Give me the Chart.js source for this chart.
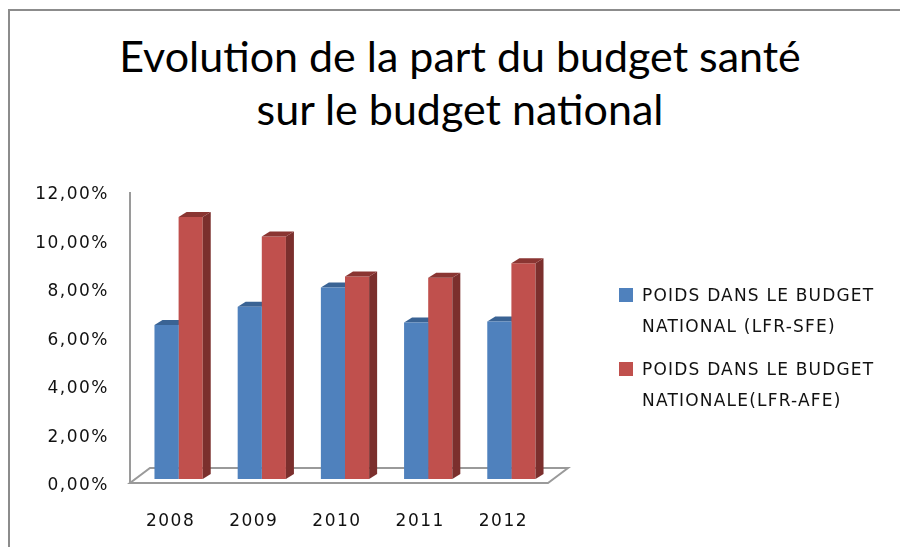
<!DOCTYPE html>
<html>
<head>
<meta charset="utf-8">
<script src="https://cdn.jsdelivr.net/npm/chart.js@4.4.1/dist/chart.umd.min.js"></script>
<style>
  body { margin: 0; background: #fff; }
  #wrap { position: relative; width: 900px; height: 547px; overflow: hidden; }
  #frame { position: absolute; left: 8px; top: 9px; width: 1000px; height: 1000px;
           border-top: 2px solid #8c8c8c; border-left: 2px solid #8c8c8c; }
  #title { position: absolute; left: 0; top: 29px; width: 920px; text-align: center;
           font-family: Lato, "Open Sans", sans-serif; font-size: 43px; line-height: 53px; color: #000; }
  #legend { position: absolute; left: 619px; top: 280px; font-family: "DejaVu Sans", sans-serif;
            font-size: 17px; letter-spacing: 1.2px; color: #111; }
  .item { position: relative; padding-left: 23px; line-height: 31px; margin-bottom: 12px; }
  .box { position: absolute; left: 0; top: 8px; width: 14px; height: 14px; }
  canvas { position: absolute; left: 0; top: 0; }
</style>
</head>
<body>
<div id="wrap">
  <div id="frame"></div>
  <div id="title">Evolution de la part du budget santé<br>sur le budget national</div>
  <canvas id="chartHolder" width="900" height="547"></canvas>
  <div id="legend"></div>
</div>
<script>
const categories = ["2008", "2009", "2010", "2011", "2012"];
const seriesNames = [["POIDS DANS LE BUDGET", "NATIONAL (LFR-SFE)"], ["POIDS DANS LE BUDGET", "NATIONALE(LFR-AFE)"]];
const sfeValues = [6.35, 7.1, 7.9, 6.45, 6.5];
const afeValues = [10.8, 10.0, 8.35, 8.3, 8.9];
const yTicks = [0, 2, 4, 6, 8, 10, 12];

const colors = [
    {front: "#4f81bd", top: "#3a6394", side: "#37608f"},
    {front: "#c0504d", top: "#8a3532", side: "#7b2f2d"}
];
const DX = 8, DY = 5;

// legend as plain html
const legend = document.getElementById("legend");
seriesNames.forEach((lines, i) => {
    const item = document.createElement("div");
    item.classList.add("item");
    const box = document.createElement("span");
    box.classList.add("box");
    box.style.background = colors[i].front;
    item.append(box);
    item.append(lines[0]);
    item.append(document.createElement("br"));
    item.append(lines[1]);
    legend.append(item);
});

function drawFaces(ctx, meta, c)
{
    meta.data.forEach(bar => {
        const l = bar.x - bar.width / 2;
        const r = bar.x + bar.width / 2;
        ctx.fillStyle = c.side;
        ctx.beginPath();
        ctx.moveTo(r, bar.y);
        ctx.lineTo(r + DX, bar.y - DY);
        ctx.lineTo(r + DX, bar.base - DY);
        ctx.lineTo(r, bar.base);
        ctx.closePath();
        ctx.fill();
        ctx.fillStyle = c.top;
        ctx.beginPath();
        ctx.moveTo(l, bar.y);
        ctx.lineTo(l + DX, bar.y - DY);
        ctx.lineTo(r + DX, bar.y - DY);
        ctx.lineTo(r, bar.y);
        ctx.closePath();
        ctx.fill();
    });
}

const bars3d = {
    id: "bars3d",
    beforeDraw(chart) {
        chart.ctx.letterSpacing = "1.5px";
    },
    beforeDatasetsDraw(chart) {
        const ctx = chart.ctx;
        const a = chart.chartArea;
        ctx.save();
        // floor
        ctx.strokeStyle = "#9a9a9a";
        ctx.lineWidth = 2;
        ctx.beginPath();
        ctx.moveTo(a.left - 7, a.bottom + 4);
        ctx.lineTo(a.right - 5, a.bottom + 4);
        ctx.lineTo(a.right + 15, a.bottom - 11);
        ctx.lineTo(a.left + 13, a.bottom - 11);
        ctx.closePath();
        ctx.stroke();
        // value axis
        ctx.beginPath();
        ctx.moveTo(a.left - 7, a.top + 4);
        ctx.lineTo(a.left - 7, a.bottom + 4);
        ctx.stroke();
        drawFaces(ctx, chart.getDatasetMeta(0), colors[0]);
        ctx.restore();
    },
    afterDatasetsDraw(chart) {
        const ctx = chart.ctx;
        ctx.save();
        drawFaces(ctx, chart.getDatasetMeta(1), colors[1]);
        ctx.restore();
    }
};

new Chart(document.getElementById("chartHolder"), {
    type: "bar",
    data: {
        labels: categories,
        datasets: [
            {label: seriesNames[0].join(" "), data: sfeValues, backgroundColor: colors[0].front},
            {label: seriesNames[1].join(" "), data: afeValues, backgroundColor: colors[1].front}
        ]
    },
    options: {
        responsive: false,
        animation: false,
        devicePixelRatio: 1,
        layout: {padding: {left: 0, right: 347, top: 188, bottom: 0}},
        datasets: {bar: {categoryPercentage: 0.58, barPercentage: 1.0}},
        plugins: {legend: {display: false}, title: {display: false}, tooltip: {enabled: false}},
        scales: {
            x: {
                grid: {display: false},
                border: {display: false},
                ticks: {color: "#111", font: {family: "DejaVu Sans", size: 17}, padding: 24, labelOffset: -8, maxRotation: 0},
                afterFit: s => { s.height = 68; }
            },
            y: {
                min: 0,
                max: 12,
                afterBuildTicks: s => { s.ticks = yTicks.map(v => ({value: v})); },
                grid: {display: false},
                border: {display: false},
                ticks: {
                    color: "#111",
                    font: {family: "DejaVu Sans", size: 17},
                    padding: 20,
                    labelOffset: 7,
                    callback: v => v.toFixed(2).replace(".", ",") + "%"
                },
                afterFit: s => { s.width = 137; }
            }
        }
    },
    plugins: [bars3d]
});
</script>
</body>
</html>
